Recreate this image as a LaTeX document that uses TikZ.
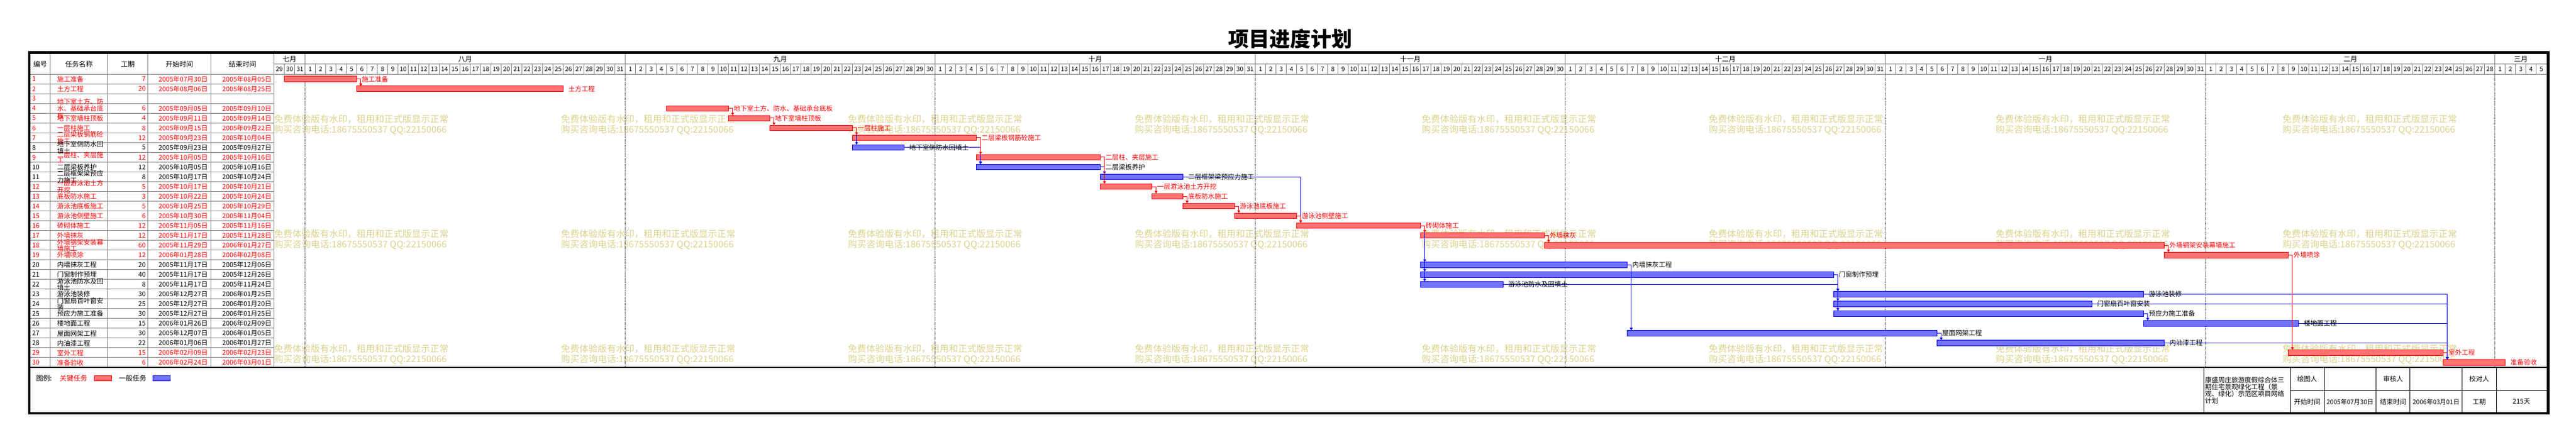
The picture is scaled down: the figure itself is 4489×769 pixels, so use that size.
\documentclass[tikz,border=0pt]{standalone}
\usepackage{fontspec}
\setmainfont{Noto Sans CJK SC}
\usetikzlibrary{arrows.meta}
\definecolor{wmk}{RGB}{220,210,140}
\definecolor{gridg}{RGB}{128,128,128}
\begin{document}
\begin{tikzpicture}[x=1pt,y=-1pt,
  every node/.style={inner sep=0pt, outer sep=0pt},
  txt/.style={font=\fontsize{11.5}{9.7}\selectfont},
  hdr/.style={font=\fontsize{12}{12}\selectfont},
  daynum/.style={font=\fontsize{11}{11}\selectfont},
  gbar/.style={rectangle, minimum height=9.7pt, line width=1pt, anchor=west},
  glab/.style={font=\fontsize{11.5}{11.5}\selectfont, anchor=west},
  con/.style={line width=1pt, -{Triangle[width=5pt,length=4.5pt]}},
  wm/.style={text=wmk, font=\fontsize{16}{17.7}\selectfont, align=left, anchor=west},
  gridl/.style={draw=gridg, line width=1pt},
  tb/.style={font=\fontsize{11.5}{12.1}\selectfont},
]
\fill[white] (0,0) rectangle (4489,769);
\useasboundingbox (0,0) rectangle (4489,769);

% watermarks
\foreach \cc in {0,...,7}{
  \foreach \rr in {0,1,2}{
    \node[wm] (wm\cc\rr) at ({477.5+500*\cc},{216.9+200*\rr}) {免费体验版有水印，租用和正式版显示正常\\购买咨询电话:18675550537 QQ:22150066};
  }
}

% title
\node[font=\fontsize{36}{36}\selectfont\bfseries] (title) at (2248,68) {项目进度计划};

% table grid
\foreach \xx in {87.6,187.5,257.6,367.4,477.7} \draw[gridl] (\xx,94) -- (\xx,640);
\foreach \ii in {1,...,29} \draw[gridl] (52.8,{129.3+17.02*\ii}) -- (477.7,{129.3+17.02*\ii});
\draw[gridl] (52.8,129.3) -- (4437.7,129.3);
\draw[gridl] (477.7,111.7) -- (4437.7,111.7);
\foreach \ii in {1,...,219} \draw[gridl] ({477.7+18*\ii},111.7) -- ({477.7+18*\ii},129.3);
\foreach \mm in {3,34,64,95,125,156,187,215}{
  \draw[gridl] ({477.7+18*\mm},94) -- ({477.7+18*\mm},129.3);
  \draw[line width=0.8pt, dash pattern=on 1pt off 1.2pt] ({477.7+18*\mm},129.3) -- ({477.7+18*\mm},640);
}

% table header
\node[hdr] (h1) at (70.2,111.7) {编号};
\node[hdr] (h2) at (137.5,111.7) {任务名称};
\node[hdr] (h3) at (222.5,111.7) {工期};
\node[hdr] (h4) at (312.5,111.7) {开始时间};
\node[hdr] (h5) at (422.5,111.7) {结束时间};

% months
\foreach \mx/\mn [count=\k] in {504.7/七月,810.7/八月,1359.7/九月,1908.7/十月,2457.7/十一月,3006.7/十二月,3564.7/一月,4095.7/二月,4392.7/三月}
  \node[hdr] (mo\k) at (\mx,102.9) {\mn};

% day numbers
\foreach \dd [count=\k from 0] in {29,30,31}
  \node[daynum] (dj\dd) at ({477.7+18*\k+9},120.5) {\dd};
\foreach \off/\nn in {3/31,34/30,64/31,95/30,125/31,156/31,187/28,215/5}{
  \foreach \dd in {1,...,\nn}
    \node[daynum] (d\off-\dd) at ({477.7+18*(\off+\dd-1)+9},120.5) {\dd};
}

% table rows
\foreach \ii/\cl/\nm/\du/\st/\en in {
1/red/施工准备/7/2005年07月30日/2005年08月05日,
2/red/土方工程/20/2005年08月06日/2005年08月25日,
3/red/{}/{}/{}/{},
4/red/{}/6/2005年09月05日/2005年09月10日,
5/red/地下室墙柱顶板/4/2005年09月11日/2005年09月14日,
6/red/一层柱施工/8/2005年09月15日/2005年09月22日,
7/red/{二层梁板钢筋砼\\施工}/12/2005年09月23日/2005年10月04日,
8/black/{地下室侧防水回\\填土}/5/2005年09月23日/2005年09月27日,
9/red/{二层柱、夹层施\\工}/12/2005年10月05日/2005年10月16日,
10/black/二层梁板养护/12/2005年10月05日/2005年10月16日,
11/black/{二层框架梁预应\\力施工}/8/2005年10月17日/2005年10月24日,
12/red/{一层游泳池土方\\开挖}/5/2005年10月17日/2005年10月21日,
13/red/底板防水施工/3/2005年10月22日/2005年10月24日,
14/red/游泳池底板施工/5/2005年10月25日/2005年10月29日,
15/red/游泳池侧壁施工/6/2005年10月30日/2005年11月04日,
16/red/砖砌体施工/12/2005年11月05日/2005年11月16日,
17/red/外墙抹灰/12/2005年11月17日/2005年11月28日,
18/red/{外墙钢架安装幕\\墙施工}/60/2005年11月29日/2006年01月27日,
19/red/外墙喷涂/12/2006年01月28日/2006年02月08日,
20/black/内墙抹灰工程/20/2005年11月17日/2005年12月06日,
21/black/门窗制作预埋/40/2005年11月17日/2005年12月26日,
22/black/{游泳池防水及回\\填土}/8/2005年11月17日/2005年11月24日,
23/black/游泳池装修/30/2005年12月27日/2006年01月25日,
24/black/{门窗扇百叶窗安\\装}/25/2005年12月27日/2006年01月20日,
25/black/预应力施工准备/30/2005年12月27日/2006年01月25日,
26/black/楼地面工程/15/2006年01月26日/2006年02月09日,
27/black/屋面网架工程/30/2005年12月07日/2006年01月05日,
28/black/内油漆工程/22/2006年01月06日/2006年01月27日,
29/red/室外工程/15/2006年02月09日/2006年02月23日,
30/red/准备验收/6/2006年02月24日/2006年03月01日}{
  \node[txt, text=\cl, anchor=west] (n\ii) at (56,{120.79+17.02*\ii}) {\ii};
  \node[txt, text=\cl, anchor=west, align=left] (m\ii) at (99.5,{121.1+17.02*\ii}) {\nm};
  \node[txt, text=\cl, anchor=east] (du\ii) at (254,{120.79+17.02*\ii}) {\du};
  \node[txt, text=\cl, anchor=east] (st\ii) at (362,{120.79+17.02*\ii}) {\st};
  \node[txt, text=\cl, anchor=east] (en\ii) at (473,{120.79+17.02*\ii}) {\en};
}
\node[font=\fontsize{11.5}{12.3}\selectfont, text=red, anchor=west, align=left] (m4b) at (99.5,189.4) {地下室土方、防\\水、基础承台底\\板};

% bars and labels
\foreach \rw/\sa/\ea/\bc/\lc/\lb in {
1/1/8/red/red/施工准备,
2/8/28/red/red/土方工程,
4/38/44/red/red/地下室土方、防水、基础承台底板,
5/44/48/red/red/地下室墙柱顶板,
6/48/56/red/red/一层柱施工,
7/56/68/red/red/二层梁板钢筋砼施工,
8/56/61/blue/black/地下室侧防水回填土,
9/68/80/red/red/二层柱、夹层施工,
10/68/80/blue/black/二层梁板养护,
11/80/88/blue/black/二层框架梁预应力施工,
12/80/85/red/red/一层游泳池土方开挖,
13/85/88/red/red/底板防水施工,
14/88/93/red/red/游泳池底板施工,
15/93/99/red/red/游泳池侧壁施工,
16/99/111/red/red/砖砌体施工,
17/111/123/red/red/外墙抹灰,
18/123/183/red/red/外墙钢架安装幕墙施工,
19/183/195/red/red/外墙喷涂,
20/111/131/blue/black/内墙抹灰工程,
21/111/151/blue/black/门窗制作预埋,
22/111/119/blue/black/游泳池防水及回填土,
23/151/181/blue/black/游泳池装修,
24/151/176/blue/black/门窗扇百叶窗安装,
25/151/181/blue/black/预应力施工准备,
26/181/196/blue/black/楼地面工程,
27/131/161/blue/black/屋面网架工程,
28/161/183/blue/black/内油漆工程,
29/195/210/red/red/室外工程,
30/210/216/red/red/准备验收}{
  \node[gbar, draw=\bc, fill=\bc!55, minimum width={18*(\ea-\sa)}] (b\rw) at ({477.7+18*\sa},{120.79+17.02*\rw}) {};
}

% connectors
\draw[con, red] (b29.east) -| ([xshift=7pt]b30.north west);
\foreach \pa/\pb in {6/8,8/10,7/10,10/11,11/16,16/20,16/21,16/22,20/27,21/23,21/24,21/25,22/23,23/30,24/30,25/26,26/30,27/28,28/30}
  \draw[con, blue] (b\pa.east) -| ([xshift=7pt]b\pb.north west);
\foreach \pa/\pb in {1/2,4/5,5/6,6/7,7/9,9/12,12/13,13/14,14/15,15/16,16/17,17/18,18/19,19/29}
  \draw[con, red] (b\pa.east) -| ([xshift=7pt]b\pb.north west);

% bar labels
\foreach \rw/\lc/\lb in {
1/red/施工准备, 2/red/土方工程, 4/red/地下室土方、防水、基础承台底板, 5/red/地下室墙柱顶板,
6/red/一层柱施工, 7/red/二层梁板钢筋砼施工, 8/black/地下室侧防水回填土, 9/red/二层柱、夹层施工,
10/black/二层梁板养护, 11/black/二层框架梁预应力施工, 12/red/一层游泳池土方开挖, 13/red/底板防水施工,
14/red/游泳池底板施工, 15/red/游泳池侧壁施工, 16/red/砖砌体施工, 17/red/外墙抹灰,
18/red/外墙钢架安装幕墙施工, 19/red/外墙喷涂, 20/black/内墙抹灰工程, 21/black/门窗制作预埋,
22/black/游泳池防水及回填土, 23/black/游泳池装修, 24/black/门窗扇百叶窗安装, 25/black/预应力施工准备,
26/black/楼地面工程, 27/black/屋面网架工程, 28/black/内油漆工程, 29/red/室外工程, 30/red/准备验收}
  \node[glab, text=\lc] (l\rw) at ([xshift=9pt]b\rw.east) {\lb};

% legend
\draw[line width=1.3pt] (51,640) -- (4440,640);
\node[hdr, anchor=west] (lg0) at (63,659) {图例:};
\node[hdr, anchor=west, text=red] (lg1) at (104,659) {关键任务};
\node[gbar, draw=red, fill=red!55, minimum width=29.4pt] (lg2) at (164.6,659) {};
\node[hdr, anchor=west] (lg3) at (207,659) {一般任务};
\node[gbar, draw=blue, fill=blue!55, minimum width=30pt] (lg4) at (266,659) {};

% title block
\foreach \xx in {3840.8,3991,4050,4140.5,4199.8,4290.6,4350}
  \draw[line width=1pt] (\xx,640) -- (\xx,720);
\draw[line width=1pt] (3991,680.7) -- (4438,680.7);
\node[tb, anchor=north west, align=left] (tbt) at (3842.7,656.5) {康盛周庄旅游度假综合体三\\期住宅景观绿化工程（景\\观、绿化）示范区项目网络\\计划};
\node[tb] (tb1) at (4020.5,660) {绘图人};
\node[tb] (tb2) at (4170.2,660) {审核人};
\node[tb] (tb3) at (4320.3,660) {校对人};
\node[tb] (tb4) at (4020.5,700) {开始时间};
\node[tb, font=\fontsize{11}{11}\selectfont] (tb5) at (4095.2,700) {2005年07月30日};
\node[tb] (tb6) at (4170.2,700) {结束时间};
\node[tb, font=\fontsize{11}{11}\selectfont] (tb7) at (4245.2,700) {2006年03月01日};
\node[tb] (tb8) at (4320.3,700) {工期};
\node[tb] (tb9) at (4394,700) {215天};

% outer border
\draw[line width=4.5pt] (51,91.5) rectangle (4440.5,720);
\end{tikzpicture}
\end{document}
